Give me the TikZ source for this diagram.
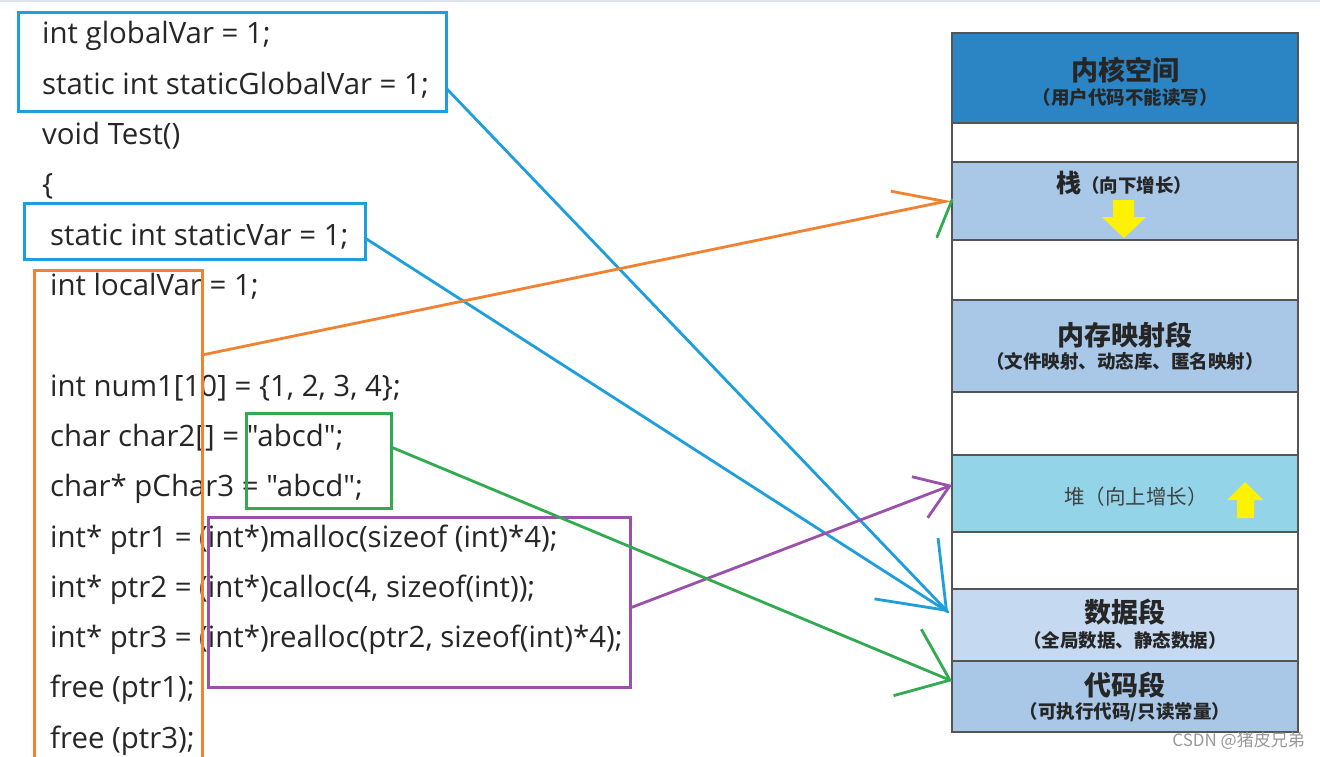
\documentclass[tikz,border=0pt]{standalone}
\usepackage{fontspec}
\setmainfont{Open Sans}[Ligatures=TeXOff]
\newfontfamily\cjk{Noto Sans CJK SC}
\usetikzlibrary{arrows.meta,calc}
\definecolor{codetext}{HTML}{262626}
\definecolor{bluel}{HTML}{1E9EDA}
\definecolor{orangel}{HTML}{F08232}
\definecolor{greenl}{HTML}{32AA50}
\definecolor{purplel}{HTML}{9B50AA}
\definecolor{kernelc}{HTML}{2B85C4}
\definecolor{segc}{HTML}{A9C8E8}
\definecolor{heapc}{HTML}{94D4E8}
\definecolor{datac}{HTML}{C5D9F0}
\definecolor{panelgray}{HTML}{555555}
\definecolor{arrowyellow}{HTML}{FFF200}
\definecolor{topline}{HTML}{DDE3EC}
\newcommand{\codefont}{\fontsize{29.4}{32}\selectfont}
\begin{document}
\begin{tikzpicture}[x=1pt,y=-1pt,
  codeline/.style={anchor=base west,inner sep=0pt,font=\codefont,text=codetext},
  markbox/.style={draw,line width=3pt,inner sep=0pt,outer sep=0pt},
  seg/.style={draw=panelgray,line width=1.2pt,minimum width=346pt,inner sep=0pt,outer sep=0pt},
  title/.style={inner sep=0pt,font=\cjk\bfseries\fontsize{27}{30}\selectfont,text=black!85},
  sub/.style={inner sep=0pt,font=\cjk\bfseries\fontsize{18.5}{20}\selectfont,text=black!85},
  link/.style={line width=2.8pt,line cap=round,line join=round}
]
\useasboundingbox (0,0) rectangle (1320,757);
\fill[white] (0,0) rectangle (1320,757);
\draw[topline,line width=2pt] (0,1) -- (1320,1);

% code lines
\node[codeline] (l1) at (42,44) {int globalVar = 1;};
\node[codeline] (l2) at (42,94.3) {static int staticGlobalVar = 1;};
\node[codeline] (l3) at (42,144.6) {void Test()};
\node[codeline] (l4) at (42,194.9) {\{};
\node[codeline] (l5) at (50,245.2) {static int staticVar = 1;};
\node[codeline] (l6) at (50,295.5) {int localVar = 1;};
\node[codeline] (l8) at (50,396.1) {int num1[10] = \{1, 2, 3, 4\};};
\node[codeline] (l9) at (50,446.4) {char char2[] = "abcd";};
\node[codeline] (l10) at (50,496.7) {char* pChar3 = "abcd";};
\node[codeline] (l11) at (50,547) {int* ptr1 = (int*)malloc(sizeof (int)*4);};
\node[codeline] (l12) at (50,597.3) {int* ptr2 = (int*)calloc(4, sizeof(int));};
\node[codeline] (l13) at (50,647.6) {int* ptr3 = (int*)realloc(ptr2, sizeof(int)*4);};
\node[codeline] (l14) at (50,697.9) {free (ptr1);};
\node[codeline] (l15) at (50,748.2) {free (ptr3);};

% highlight boxes
\node[markbox,draw=bluel,minimum width=428pt,minimum height=99pt] (gbox) at (232,62.5) {};
\node[markbox,draw=bluel,minimum width=341pt,minimum height=56pt] (sbox) at (194.5,231) {};
\node[markbox,draw=orangel,minimum width=168pt,minimum height=500pt] (obox) at (118,520) {};
\node[markbox,draw=greenl,minimum width=145pt,minimum height=95pt] (grbox) at (318.5,460.5) {};
\node[markbox,draw=purplel,minimum width=422pt,minimum height=170pt] (pbox) at (419,602) {};

% memory layout panel
\node[seg,fill=white,minimum height=699pt] (panel) at (1125,382.5) {};
\node[seg,fill=kernelc,minimum height=90pt] (kernel) at (1125,78) {};
\node[seg,fill=segc,minimum height=78pt] (stack) at (1125,201) {};
\node[seg,fill=segc,minimum height=92pt] (mmap) at (1125,346) {};
\node[seg,fill=heapc,minimum height=77pt] (heap) at (1125,493.5) {};
\node[seg,fill=datac,minimum height=72pt] (data) at (1125,625) {};
\node[seg,fill=segc,minimum height=71pt] (codeseg) at (1125,696.5) {};

\node[title] (kt) at (1125,70) {内核空间};
\node[sub] (ks) at (1125,97) {（用户代码不能读写）};
\node[inner sep=0pt,anchor=west,text=black!85] (st) at (1056,183) {\cjk\bfseries{\fontsize{25}{28}\selectfont 栈}{\fontsize{18.5}{20}\selectfont （向下增长）}};
\node[title] (mt) at (1125,335) {内存映射段};
\node[sub] (ms) at (1125,361) {（文件映射、动态库、匿名映射）};
\node[inner sep=0pt,font=\cjk\fontsize{20.5}{22}\selectfont,text=black!75] (ht) at (1136,497) {堆（向上增长）};
\node[title] (dt) at (1125,612) {数据段};
\node[sub] (ds) at (1125,640) {（全局数据、静态数据）};
\node[title] (ct) at (1125,685) {代码段};
\node[sub] (cs) at (1125,712) {（可执行代码/只读常量）};

% yellow growth arrows
\fill[arrowyellow] (1113,200) -- (1134,200) -- (1134,217) -- (1146,217) -- (1124,238) -- (1102,217) -- (1113,217) -- cycle;
\fill[arrowyellow] (1245,482) -- (1263,500) -- (1254,500) -- (1254,518) -- (1237,518) -- (1237,500) -- (1227,500) -- cycle;

% connector end points
\coordinate (gOut) at ($(gbox.east)+(0,25.5)$);
\coordinate (sOut) at ($(sbox.east)+(0,7)$);
\coordinate (oOut) at ($(obox.east)+(0,-165)$);
\coordinate (grOut) at ($(grbox.east)+(0,-13.5)$);
\coordinate (pOut) at ($(pbox.east)+(0,6)$);
\coordinate (stackIn) at ($(stack.west)+(0,-1)$);
\coordinate (heapIn) at ($(heap.west)+(0,-8.5)$);
\coordinate (dataIn) at ($(data.west)+(-4,-13)$);
\coordinate (codeIn) at ($(codeseg.west)+(0,-15.5)$);
\coordinate (greenBarb) at ($(stackIn)+(-15,37)$);

% connectors
\draw[link,bluel] (sOut) -- (dataIn);
\draw[link,bluel,-{Straight Barb[length=58pt,width=88pt]}] (gOut) -- (dataIn);
\draw[link,orangel,-{Straight Barb[harpoon,length=51pt,width=42pt]}] (oOut) -- (stackIn);
\draw[link,greenl] (greenBarb) -- (stackIn);
\draw[link,purplel,-{Straight Barb[length=32pt,width=44pt]}] (pOut) -- (heapIn);
\draw[link,greenl,-{Straight Barb[length=46pt,width=72pt]}] (grOut) -- (codeIn);

% watermark
\node[anchor=base east,inner sep=0pt,font=\cjk\fontsize{17}{19}\selectfont,text=black!40] (wm) at (1305,746) {CSDN @猪皮兄弟};
\end{tikzpicture}
\end{document}
